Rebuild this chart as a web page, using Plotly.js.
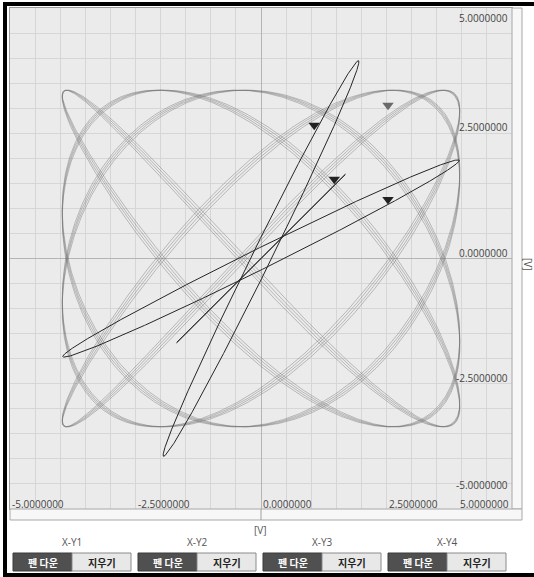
<!DOCTYPE html>
<html><head><meta charset="utf-8">
<script src="https://cdn.plot.ly/plotly-3.0.1.min.js"></script>
<style>body{margin:0;background:#fff}</style></head>
<body><div id="g" style="width:534px;height:577px"></div>
<script>
// ---- values ----
// gray XY trace (X-Y1): x = -Ax cos(fx t), y = Ay cos(fy t - phase), several passes
const grayAmp = [3.96, 3.36];
const grayFreq = [4, 5];
const grayPhase = [0.237, 0.259, 0.281, 0.303];
// black XY traces (X-Y2, X-Y3, X-Y4): x = Ax sin t, y = Ay sin(t + phase)
const blackAmpX = [1.95, 3.95, 1.68];
const blackAmpY = [3.95, 1.97, 1.68];
const blackPhaseDeg = [6.2, 6.7, 0];
// pen position markers
const penX = [2.53, 1.06, 2.53, 1.46];
const penY = [3.06, 2.66, 1.18, 1.58];
const penColor = ['#6a6a6a', '#222222', '#222222', '#222222'];
// axis tick labels
const tickVals = [-5, -2.5, 0, 2.5, 5];
const tickText = ['-5.0000000', '-2.5000000', '0.0000000', '2.5000000', '5.0000000'];
const unitLabel = '[V]';
const groupNames = ['X-Y1', 'X-Y2', 'X-Y3', 'X-Y4'];
const btnPen = '펜 다운', btnErase = '지우기';

// ---- layout geometry (pixels) ----
const W = 534, H = 577, ML = 10, MR = 22, MT = 8, MB = 68;
const PW = W - ML - MR, PH = H - MT - MB;
const px = p => (p - ML) / PW;
const py = p => (H - MB - p) / PH;

const N = 2400;
const traces = [];
grayPhase.forEach(ph => {
  const xs = [], ys = [];
  for (let i = 0; i <= N; i++) {
    const t = i / N * 2 * Math.PI;
    xs.push(-grayAmp[0] * Math.cos(grayFreq[0] * t));
    ys.push(grayAmp[1] * Math.cos(grayFreq[1] * t - ph));
  }
  traces.push({x: xs, y: ys, mode: 'lines', line: {color: 'rgba(110,110,110,0.42)', width: 1}, hoverinfo: 'skip'});
});
blackAmpX.forEach((ax, k) => {
  const xs = [], ys = [];
  const ph = blackPhaseDeg[k] * Math.PI / 180;
  for (let i = 0; i <= 800; i++) {
    const t = i / 800 * 2 * Math.PI;
    xs.push(ax * Math.sin(t));
    ys.push(blackAmpY[k] * Math.sin(t + ph));
  }
  traces.push({x: xs, y: ys, mode: 'lines', line: {color: '#262626', width: 1}, hoverinfo: 'skip'});
});
traces.push({x: penX, y: penY, mode: 'markers',
  marker: {symbol: 'triangle-down', size: 10, color: penColor, line: {width: 0}}, hoverinfo: 'skip'});

const font = {family: 'Open Sans, Noto Sans, sans-serif', size: 10, color: '#444'};
const ann = [];
// x tick labels, inside the plot along the bottom
tickVals.forEach((v, i) => {
  const last = i === tickVals.length - 1;
  ann.push({xref: 'x', yref: 'paper', x: v, y: 0, text: tickText[i], showarrow: false,
    xanchor: last ? 'right' : 'left', yanchor: 'bottom', xshift: last ? -1 : 0, yshift: -4, font});
});
// y tick labels, inside the plot along the right
tickVals.forEach((v, i) => {
  const top = i === tickVals.length - 1, bottom = i === 0;
  ann.push({xref: 'paper', yref: 'y', x: 1, y: v, text: tickText[i], showarrow: false,
    xanchor: 'right', yanchor: top ? 'top' : 'bottom', xshift: -2, yshift: bottom ? 15 : (top ? -1 : -3), font});
});
const lab = (x, y, text, f, extra) => Object.assign({xref: 'paper', yref: 'paper', x: px(x), y: py(y), text,
  showarrow: false, xanchor: 'center', yanchor: 'middle', font: f}, extra || {});
const smallFont = {family: font.family, size: 10, color: '#555'};
ann.push(lab(260, 530, unitLabel, smallFont));
ann.push(lab(528, 264, unitLabel, smallFont, {textangle: 90}));

const shapes = [];
// scroll strips next to the plot
shapes.push({type: 'rect', xref: 'paper', yref: 'paper', x0: px(512), x1: px(522), y0: py(509), y1: py(8),
  fillcolor: '#f7f7f7', line: {color: '#a8a8a8', width: 1}});
shapes.push({type: 'rect', xref: 'paper', yref: 'paper', x0: px(10), x1: px(522), y0: py(520), y1: py(509),
  fillcolor: '#f7f7f7', line: {color: '#a8a8a8', width: 1}});
shapes.push({type: 'line', xref: 'x', yref: 'paper', x0: 0, x1: 0, y0: py(509), y1: py(520),
  line: {color: '#a0a0a0', width: 1}});
// buttons
const groupLeft = [13, 138, 263, 388];
const cjk = 'Noto Sans CJK KR, sans-serif';
groupLeft.forEach((g, i) => {
  shapes.push({type: 'rect', xref: 'paper', yref: 'paper', x0: px(g), x1: px(g + 59), y0: py(571), y1: py(553),
    fillcolor: '#505050', line: {color: '#3a3a3a', width: 1}});
  shapes.push({type: 'rect', xref: 'paper', yref: 'paper', x0: px(g + 59), x1: px(g + 118), y0: py(571), y1: py(553),
    fillcolor: '#e8e8e8', line: {color: '#8a8a8a', width: 1}});
  ann.push(lab(g + 59, 542, groupNames[i], smallFont));
  ann.push(lab(g + 29.5, 562, '<b>' + btnPen + '</b>', {family: cjk, size: 10, color: '#ffffff'}));
  ann.push(lab(g + 88.5, 562, '<b>' + btnErase + '</b>', {family: cjk, size: 10, color: '#222'}));
});
// outer black frame (top, left, bottom)
shapes.push({type: 'rect', xref: 'paper', yref: 'paper', x0: px(3), x1: px(534), y0: py(6), y1: py(2),
  fillcolor: '#000', line: {width: 0}});
shapes.push({type: 'rect', xref: 'paper', yref: 'paper', x0: px(3), x1: px(7), y0: py(577), y1: py(2),
  fillcolor: '#000', line: {width: 0}});
shapes.push({type: 'rect', xref: 'paper', yref: 'paper', x0: px(3), x1: px(534), y0: py(577), y1: py(573),
  fillcolor: '#000', line: {width: 0}});

const axisCommon = {range: [-5, 5], dtick: 0.5, tick0: 0, showticklabels: false, ticks: '',
  showgrid: true, gridcolor: '#d6d6d6', gridwidth: 1, zeroline: true, zerolinecolor: '#b4b4b4', zerolinewidth: 1,
  showline: true, linecolor: '#9c9c9c', linewidth: 1, mirror: true, fixedrange: true};

const layout = {
  width: W, height: H, margin: {l: ML, r: MR, t: MT, b: MB, pad: 0},
  paper_bgcolor: '#ffffff', plot_bgcolor: '#ebebeb', showlegend: false,
  xaxis: Object.assign({}, axisCommon),
  yaxis: Object.assign({}, axisCommon),
  annotations: ann, shapes: shapes
};
Plotly.newPlot('g', traces, layout, {displayModeBar: false, staticPlot: true});
</script></body></html>
